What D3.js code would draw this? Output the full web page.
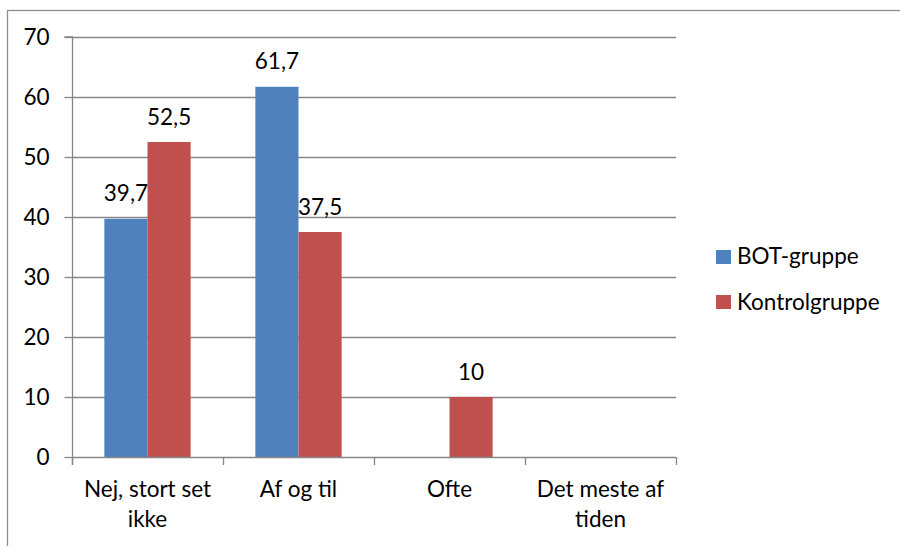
<!DOCTYPE html>
<html>
<head>
<meta charset="utf-8">
<script src="https://cdn.jsdelivr.net/npm/d3@7"></script>
<style>
  html, body { margin: 0; padding: 0; background: #fff; }
  svg { display: block; font-family: Lato, "Open Sans", sans-serif; }
</style>
</head>
<body>
<svg id="chart" width="900" height="546"></svg>
<script>
// Answer categories and the share (%) of each group
const categories = ["Nej, stort set ikke", "Af og til", "Ofte", "Det meste af tiden"];
const seriesNames = ["BOT-gruppe", "Kontrolgruppe"];
const botValues = [39.7, 61.7, null, null];
const kontrolValues = [52.5, 37.5, 10, null];
const seriesColors = ["#4F81BD", "#C0504D"];
const yTicks = [0, 10, 20, 30, 40, 50, 60, 70];

const seriesValues = [botValues, kontrolValues];
const fmt = v => String(v).replace(".", ",");

const svg = d3.select("#chart");
const fontSize = 22.5;
const gridColor = "#868686";

// Outer chart frame
svg.append("rect")
  .attr("x", 7.5).attr("y", 10.5)
  .attr("width", 1200).attr("height", 1200)
  .attr("fill", "none").attr("stroke", "#8c8c8c").attr("stroke-width", 1.3);

const plot = { left: 72, right: 676, top: 37, bottom: 457 };

const y = d3.scaleLinear().domain([0, 70]).range([plot.bottom, plot.top]);
const x = d3.scaleBand().domain(categories).range([plot.left, plot.right]).paddingInner(0).paddingOuter(0);
const bw = x.bandwidth();
// Two bars per category with a 150% gap
const xs = d3.scaleBand().domain(seriesNames).range([bw * 0.75 / 3.5, bw * 2.75 / 3.5]);

// Horizontal gridlines
svg.append("g").selectAll("line")
  .data(yTicks.filter(t => t > 0))
  .join("line")
  .attr("x1", plot.left).attr("x2", plot.right)
  .attr("y1", d => Math.round(y(d)) + 0.5).attr("y2", d => Math.round(y(d)) + 0.5)
  .attr("stroke", gridColor).attr("stroke-width", 1.3);

// Bars
const barData = [];
seriesNames.forEach((s, si) => {
  categories.forEach((c, ci) => {
    const v = seriesValues[si][ci];
    if (v != null) barData.push({ s, si, c, v });
  });
});

svg.append("g").selectAll("rect")
  .data(barData)
  .join("rect")
  .attr("x", d => x(d.c) + xs(d.s))
  .attr("width", xs.bandwidth())
  .attr("y", d => y(d.v))
  .attr("height", d => y(0) - y(d.v))
  .attr("fill", d => seriesColors[d.si]);

// Value labels
svg.append("g").selectAll("text")
  .data(barData)
  .join("text")
  .attr("x", d => x(d.c) + xs(d.s) + xs.bandwidth() / 2)
  .attr("y", d => y(d.v) - 17.5)
  .attr("text-anchor", "middle")
  .attr("font-size", fontSize)
  .attr("fill", "#000")
  .text(d => fmt(d.v));

// Y axis
const yAxis = d3.axisLeft(y).tickValues(yTicks).tickSize(8).tickPadding(15).tickFormat(d => d);
const gy = svg.append("g").attr("transform", `translate(${plot.left + 0.5},0)`).call(yAxis);
gy.select(".domain").attr("stroke", gridColor).attr("stroke-width", 1.3).attr("d", `M-8,${y(70)}H0V${y(0) + 8}`);
gy.selectAll(".tick line").attr("stroke", gridColor).attr("stroke-width", 1.3);
gy.selectAll(".tick text").attr("font-size", fontSize).attr("font-family", "Lato, sans-serif").attr("fill", "#000");

// X axis
const xTickPositions = categories.map(c => x(c)).concat([plot.right]);
const gx = svg.append("g");
gx.append("line")
  .attr("x1", plot.left).attr("x2", plot.right)
  .attr("y1", y(0) + 0.5).attr("y2", y(0) + 0.5)
  .attr("stroke", gridColor).attr("stroke-width", 1.3);
gx.selectAll("line.tick")
  .data(xTickPositions)
  .join("line").attr("class", "tick")
  .attr("x1", d => Math.round(d) + 0.5).attr("x2", d => Math.round(d) + 0.5)
  .attr("y1", y(0)).attr("y2", y(0) + 8)
  .attr("stroke", gridColor).attr("stroke-width", 1.3);

// Category labels, wrapped to the band width
const labelG = svg.append("g");
categories.forEach(c => {
  const t = labelG.append("text")
    .attr("x", x(c) + bw / 2)
    .attr("y", 497)
    .attr("text-anchor", "middle")
    .attr("font-size", fontSize)
    .attr("fill", "#000");
  const words = c.split(" ");
  let line = [];
  let lineNo = 0;
  let span = t.append("tspan").attr("x", x(c) + bw / 2).attr("dy", 0);
  words.forEach(w => {
    line.push(w);
    span.text(line.join(" "));
    if (span.node().getComputedTextLength() > bw - 12 && line.length > 1) {
      line.pop();
      span.text(line.join(" "));
      line = [w];
      lineNo++;
      span = t.append("tspan").attr("x", x(c) + bw / 2).attr("dy", 29.5).text(w);
    }
  });
});

// Legend
const legend = svg.append("g");
seriesNames.forEach((s, i) => {
  legend.append("rect")
    .attr("x", 716).attr("y", 250 + i * 45)
    .attr("width", 15).attr("height", 14)
    .attr("fill", seriesColors[i]);
  legend.append("text")
    .attr("x", 737).attr("y", 264 + i * 45.5)
    .attr("font-size", fontSize)
    .attr("fill", "#000")
    .text(s);
});
</script>
</body>
</html>
